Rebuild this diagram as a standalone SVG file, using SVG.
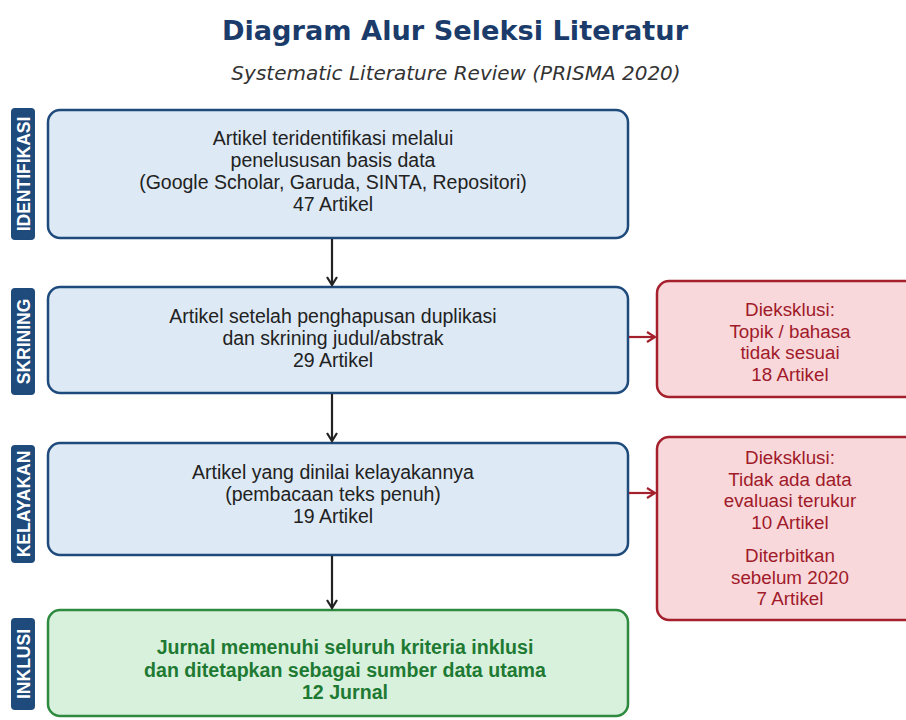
<svg xmlns="http://www.w3.org/2000/svg" width="906" height="720" viewBox="0 0 906 720">
<defs>
<marker id="ab" viewBox="0 0 12 12" refX="10" refY="6" markerWidth="12" markerHeight="12" markerUnits="userSpaceOnUse" orient="auto">
<path d="M2,1 L10,6 L2,11" fill="none" stroke="#222" stroke-width="2.2"/>
</marker>
<marker id="ar" viewBox="0 0 12 12" refX="10" refY="6" markerWidth="12" markerHeight="12" markerUnits="userSpaceOnUse" orient="auto">
<path d="M2,1 L10,6 L2,11" fill="none" stroke="#a3202c" stroke-width="2.2"/>
</marker>
</defs>
<style>
.title{font-family:"DejaVu Sans",sans-serif;font-weight:bold;font-size:27.2px;fill:#1b3c6b}
.sub{font-family:"DejaVu Sans",sans-serif;font-style:italic;font-size:20px;fill:#333}
.side rect{fill:#1f4a7c}
.side text{font-family:"Liberation Sans",Arial,sans-serif;font-weight:bold;font-size:17.5px;fill:#fff;text-anchor:middle}
.blue{fill:#dde9f5;stroke:#1f4a7c;stroke-width:2.5}
.green{fill:#d8f1dd;stroke:#2d8a3e;stroke-width:2.5}
.red{fill:#f8d8da;stroke:#a3202c;stroke-width:2.5}
.t{font-family:"Liberation Sans",Arial,sans-serif;font-size:19.5px;fill:#222;text-anchor:middle}
.tg{font-family:"Liberation Sans",Arial,sans-serif;font-size:19.6px;font-weight:bold;fill:#1e7a32;text-anchor:middle}
.tr{font-family:"Liberation Sans",Arial,sans-serif;font-size:18.8px;fill:#a01a2a;text-anchor:middle}
.cb{stroke:#222;stroke-width:2.2;fill:none}
.cr{stroke:#a3202c;stroke-width:2.2;fill:none}
</style>
<rect width="906" height="720" fill="#fff"/>
<text class="title" x="455" y="40" text-anchor="middle">Diagram Alur Seleksi Literatur</text>
<text class="sub" x="456" y="80" text-anchor="middle">Systematic Literature Review (PRISMA 2020)</text>

<g id="label-identifikasi" class="side"><rect x="11" y="108" width="24" height="132" rx="4"/><text transform="translate(30,174) rotate(-90)">IDENTIFIKASI</text></g>
<g id="label-skrining" class="side"><rect x="11" y="288" width="24" height="107" rx="4"/><text transform="translate(30,341.5) rotate(-90)">SKRINING</text></g>
<g id="label-kelayakan" class="side"><rect x="11" y="445" width="24" height="118" rx="4"/><text transform="translate(30,504) rotate(-90)">KELAYAKAN</text></g>
<g id="label-inklusi" class="side"><rect x="11" y="618" width="24" height="92" rx="4"/><text transform="translate(30,664) rotate(-90)">INKLUSI</text></g>

<g id="identifikasi"><rect class="blue" x="48" y="110" width="580" height="128" rx="12"/>
<text class="t" x="333" y="145">Artikel teridentifikasi melalui</text>
<text class="t" x="333" y="167">penelususan basis data</text>
<text class="t" x="333" y="189">(Google Scholar, Garuda, SINTA, Repositori)</text>
<text class="t" x="333" y="211">47 Artikel</text></g>

<g id="skrining"><rect class="blue" x="48" y="287" width="580" height="106" rx="12"/>
<text class="t" x="333" y="323">Artikel setelah penghapusan duplikasi</text>
<text class="t" x="333" y="345">dan skrining judul/abstrak</text>
<text class="t" x="333" y="367">29 Artikel</text></g>

<g id="kelayakan"><rect class="blue" x="48" y="443" width="580" height="112" rx="12"/>
<text class="t" x="333" y="479">Artikel yang dinilai kelayakannya</text>
<text class="t" x="333" y="501">(pembacaan teks penuh)</text>
<text class="t" x="333" y="523">19 Artikel</text></g>

<g id="inklusi"><rect class="green" x="48" y="610" width="580" height="106" rx="12"/>
<text class="tg" x="345" y="654">Jurnal memenuhi seluruh kriteria inklusi</text>
<text class="tg" x="345" y="676.5">dan ditetapkan sebagai sumber data utama</text>
<text class="tg" x="345" y="699">12 Jurnal</text></g>

<g id="eksklusi-1"><rect class="red" x="657" y="281" width="266" height="116" rx="12"/>
<text class="tr" x="790" y="316">Dieksklusi:</text>
<text class="tr" x="790" y="337.5">Topik / bahasa</text>
<text class="tr" x="790" y="359">tidak sesuai</text>
<text class="tr" x="790" y="380.5">18 Artikel</text></g>

<g id="eksklusi-2"><rect class="red" x="657" y="437" width="266" height="183" rx="12"/>
<text class="tr" x="790" y="464">Dieksklusi:</text>
<text class="tr" x="790" y="485.5">Tidak ada data</text>
<text class="tr" x="790" y="507">evaluasi terukur</text>
<text class="tr" x="790" y="528.5">10 Artikel</text>
<text class="tr" x="790" y="562">Diterbitkan</text>
<text class="tr" x="790" y="583.5">sebelum 2020</text>
<text class="tr" x="790" y="605">7 Artikel</text></g>

<g id="connectors">
<line class="cb" x1="332" y1="239" x2="332" y2="285" marker-end="url(#ab)"/>
<line class="cb" x1="332" y1="394" x2="332" y2="441" marker-end="url(#ab)"/>
<line class="cb" x1="332" y1="556" x2="332" y2="608" marker-end="url(#ab)"/>
<line class="cr" x1="629" y1="337" x2="655" y2="337" marker-end="url(#ar)"/>
<line class="cr" x1="629" y1="493" x2="655" y2="493" marker-end="url(#ar)"/>
</g>
</svg>
